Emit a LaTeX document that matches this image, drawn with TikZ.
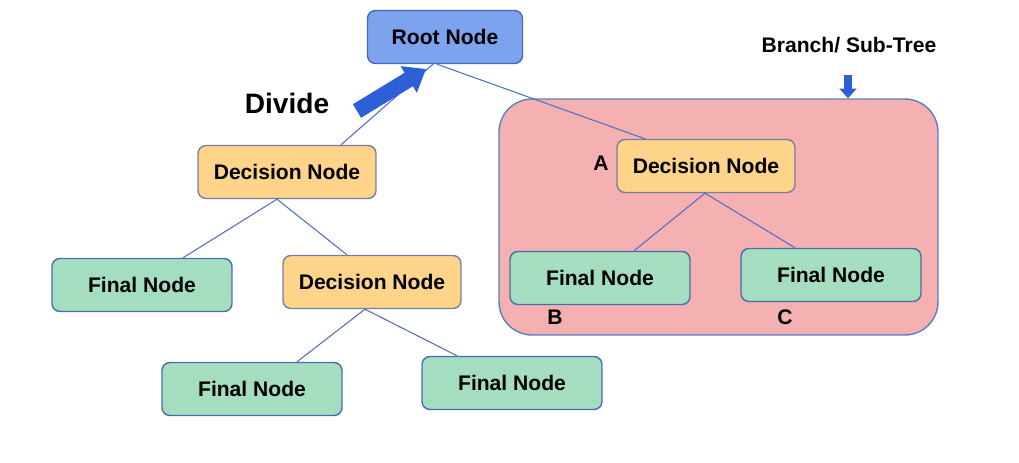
\documentclass[tikz,border=0pt]{standalone}
\usepackage{fontspec}
\setmainfont{Liberation Sans}
\usetikzlibrary{positioning, calc, arrows.meta}

\definecolor{rootblue}{RGB}{125,163,238}
\definecolor{rootedge}{RGB}{70,105,200}
\definecolor{decfill}{RGB}{253,212,138}
\definecolor{decedge}{RGB}{120,125,160}
\definecolor{finfill}{RGB}{164,221,192}
\definecolor{finedge}{RGB}{70,110,170}
\definecolor{branchfill}{RGB}{245,176,178}
\definecolor{branchedge}{RGB}{90,125,200}
\definecolor{linkblue}{RGB}{80,110,195}
\definecolor{arrowblue}{RGB}{45,95,215}

\begin{document}
\begin{tikzpicture}[
    x=0.02cm, y=-0.02cm,
    box/.style={
      draw, rectangle, rounded corners=4.5pt, line width=0.8pt,
      minimum height=1.06cm, inner sep=0pt,
      font=\fontsize{12}{14}\selectfont\bfseries
    },
    rootbox/.style={box, fill=rootblue, draw=rootedge, minimum width=3.1cm},
    decbox/.style={box, fill=decfill, draw=decedge, minimum width=3.56cm},
    finbox/.style={box, fill=finfill, draw=finedge, minimum width=3.6cm},
    link/.style={draw=linkblue, line width=0.6pt},
    tag/.style={font=\fontsize{12}{14}\selectfont\bfseries},
    bigarrow/.style={-{Triangle[length=11.5pt,width=17pt]}, line width=9pt, draw=arrowblue},
    smallarrow/.style={-{Triangle[length=5.5pt,width=9.5pt]}, line width=4.5pt, draw=arrowblue}
]
  \useasboundingbox (0,0) rectangle (1019,463);

  % Sous-arbre
  \node[draw=branchedge, fill=branchfill, rounded corners=0.66cm, line width=0.8pt,
        minimum width=8.78cm, minimum height=4.72cm] (branch) at (718.5,217) {};

  % Boîtes
  \node[rootbox] (root) at (445,37) {Root Node};
  \node[decbox] (dec1) at (287,172) {Decision Node};
  \node[finbox] (fin1) at (142,285) {Final Node};
  \node[decbox] (dec2) at (372,282) {Decision Node};
  \node[finbox] (fin2) at (252,389) {Final Node};
  \node[finbox] (fin3) at (512,383) {Final Node};
  \node[decbox] (decA) at (706,166) {Decision Node};
  \node[finbox] (finB) at (600,278) {Final Node};
  \node[finbox] (finC) at (831,275) {Final Node};

  % Étiquettes
  \node[tag] (lblA) at (601,163) {A};
  \node[tag] (lblB) at (555,317) {B};
  \node[tag] (lblC) at (785,317) {C};
  \node[tag] (branchlbl) at (849,45) {Branch/ Sub-Tree};
  \node[font=\fontsize{16}{19}\selectfont\bfseries] (divide) at (287,103) {Divide};

  % Liens
  \draw[link] ($(root.south)+(-12,0)$) -- ($(dec1.north)+(54,0)$);
  \draw[link] ($(root.south)+(-8,0)$) -- ($(decA.north)+(-61,0)$);
  \draw[link] ($(dec1.south)+(-10,0)$) -- ($(fin1.north)+(41,0)$);
  \draw[link] ($(dec1.south)+(-10,0)$) -- ($(dec2.north)+(-25,0)$);
  \draw[link] ($(dec2.south)+(-7,0)$) -- ($(fin2.north)+(45,0)$);
  \draw[link] ($(dec2.south)+(-7,0)$) -- ($(fin3.north)+(-55,0)$);
  \draw[link] ($(decA.south)+(-1,0)$) -- ($(finB.north)+(34,0)$);
  \draw[link] ($(decA.south)+(-1,0)$) -- ($(finC.north)+(-36,0)$);

  % Flèches
  \coordinate (divtail) at (357,111);
  \coordinate (divtip) at (426,69);
  \draw[bigarrow] (divtail) -- (divtip);
  \coordinate (brtail) at (848,75);
  \draw[smallarrow] (brtail) -- (branch.north -| brtail);
\end{tikzpicture}
\end{document}
